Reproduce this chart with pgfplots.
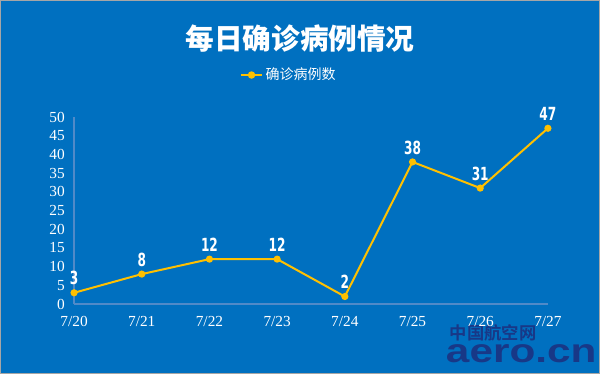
\documentclass[border=0pt]{standalone}
\usepackage{fontspec}
\usepackage{graphicx}
\setmainfont{Liberation Serif}
\newfontfamily\cjk{Noto Sans CJK SC}[BoldFont={Noto Sans CJK SC Black}]
\newfontfamily\cjkm{Noto Sans CJK SC Bold}
\newfontfamily\lbl{DejaVu Sans Condensed}[BoldFont={DejaVu Sans Condensed Bold}]
\newfontfamily\wm{Liberation Sans}
\usepackage{pgfplots}
\pgfplotsset{compat=1.18}
\definecolor{bg}{RGB}{0,112,192}
\definecolor{axc}{RGB}{80,138,200}
\definecolor{gold}{RGB}{255,192,0}
\definecolor{wmc}{RGB}{24,56,135}
\begin{document}
\begin{tikzpicture}
\fill[bg] (0pt,0pt) rectangle (450pt,280.5pt);
\draw[gray!70,line width=0.75pt] (0.3pt,0.3pt) rectangle (449.7pt,280.2pt);
\useasboundingbox (0pt,0pt) rectangle (450pt,280.5pt);
\node[text=white,font=\cjk\bfseries\fontsize{21.5}{21.5}\selectfont] at (225pt,252pt) {每日确诊病例情况};
\node[text=wmc,font=\cjkm\fontsize{13}{13}\selectfont,anchor=west] at (334pt,30.5pt) {中国航空网};
\node[text=wmc,font=\wm\bfseries\fontsize{25}{25}\selectfont,anchor=west] at (331pt,15pt) {\scalebox{1.27}[1]{aero.cn}};
\begin{axis}[
  at={(55.5pt,52.5pt)}, anchor=south west,
  scale only axis, width=355.5pt, height=140.25pt,
  xmin=0, xmax=7, ymin=0, ymax=50,
  axis lines*=left,
  axis line style={axc, line width=1pt, -},
  xtick={0,...,7},
  xticklabels={7/20,7/21,7/22,7/23,7/24,7/25,7/26,7/27},
  ytick={0,5,...,50},
  major tick length=0pt,
  tick label style={text=white, font=\fontsize{11.5}{11.5}\selectfont},
  /pgf/number format/assume math mode=true,
  xticklabel style={yshift=-5.5pt},
  yticklabel style={xshift=-3.5pt},
  clip=false,
  legend style={at={(0.454,1.225)}, anchor=center, draw=none, fill=none,
    text=white, font=\cjk\fontsize{10.5}{10.5}\selectfont, inner sep=0pt},
  legend image code/.code={
    \draw[gold, line width=1.5pt] (0cm,0cm) -- (0.55cm,0cm);
    \fill[gold] (0.275cm,0cm) circle (2pt);
  },
  nodes near coords={\scalebox{0.88}[1.18]{\pgfmathprintnumber{\pgfplotspointmeta}}},
  nodes near coords style={text=white, font=\lbl\bfseries\fontsize{11.5}{11.5}\selectfont, anchor=south, inner sep=0pt, yshift=5pt},
]
\addplot[gold, line width=1.5pt, mark=*, mark size=1.9pt, mark options={fill=gold, draw=gold}]
  coordinates {(0,3) (1,8) (2,12) (3,12) (4,2) (5,38) (6,31) (7,47)};
\addlegendentry{确诊病例数}
\end{axis}
\end{tikzpicture}
\end{document}
